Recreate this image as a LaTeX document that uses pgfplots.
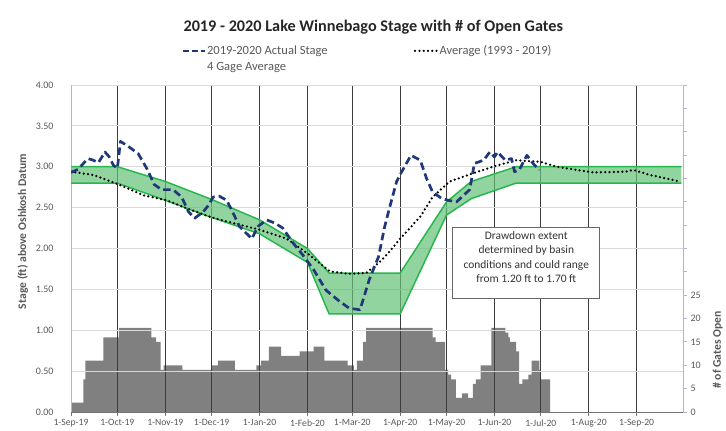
\documentclass[border=0pt]{standalone}
\usepackage{fontspec}
\setmainfont{Carlito}
\usepackage{pgfplots}
\usepackage{pgfplotstable}
\pgfplotsset{compat=1.18}
\definecolor{navy}{RGB}{32,56,122}
\definecolor{bandfill}{RGB}{99,194,119}
\definecolor{bandline}{RGB}{40,182,78}
\definecolor{lav}{RGB}{185,175,218}
\definecolor{gatesgray}{RGB}{128,128,128}
\definecolor{hgrid}{RGB}{217,217,217}
\definecolor{vgrid}{RGB}{60,60,60}
\definecolor{txt}{RGB}{89,89,89}

\pgfplotstableread{
day gates
0 2
8 7
9.3 11
21 16
31 18
52 16
55 15
58 9
60 10
72 9
91 10
95 11
106 9
120 10
123 11
128 14
136 12
148 13
157 14
164 11
179 10
183 9
185 11
189 15
191 18
234 16
236 15
242 9
244 8
246 7
249 3
253 4
257 3
260 6
262 7
265 10
272 18
281 17
283 16
284 15
288 13
290 6
292 7
296 8
298 11
303 9
304 7
310 7
}\gates

\pgfplotstableread{
day up lo
0 3.00 2.80
30 3.00 2.80
61 2.82 2.59
91 2.60 2.38
122 2.35 2.18
153 2.00 1.83
167 1.70 1.20
213 1.70 1.20
243 2.57 2.41
259 2.82 2.61
288 3.00 2.80
395 3.00 2.80
}\band

% band outline: upper bound forward, then lower bound backward
\pgfplotstableread{
day v
0 3.00
30 3.00
61 2.82
91 2.60
122 2.35
153 2.00
167 1.70
213 1.70
243 2.57
259 2.82
288 3.00
395 3.00
395 2.80
288 2.80
259 2.61
243 2.41
213 1.20
167 1.20
153 1.83
122 2.18
91 2.38
61 2.59
30 2.80
0 2.80
}\bandpoly

\pgfplotstableread{
day stage
0 2.93
4.7 2.97
8 3.04
11 3.10
14.4 3.08
17.7 3.05
22 3.18
24.8 3.12
27.4 3.02
30 2.98
32 3.31
37 3.25
43.5 3.16
49 2.98
54 2.78
58.7 2.72
66 2.72
71.6 2.63
76 2.45
80 2.37
85.6 2.45
89 2.53
92 2.63
96 2.64
100.7 2.59
104 2.47
109 2.27
117 2.12
121 2.27
126.6 2.35
132 2.31
137 2.25
144 2.06
150 1.92
157 1.74
165 1.49
174 1.35
180 1.27
187 1.25
193 1.62
199 1.90
203 2.27
206 2.49
210.7 2.82
214 2.94
220 3.14
226 3.08
230 2.86
234 2.69
240 2.61
244 2.59
249.5 2.57
254 2.65
258 2.72
261 3.04
267 3.08
271 3.18
274 3.12
276 3.18
281 3.08
285 3.10
287 2.94
290 2.96
295 3.14
299 3.04
303 2.96
}\actual

\pgfplotstableread{
day stage
0 2.94
14.4 2.90
23 2.84
30 2.79
47 2.65
62 2.59
75 2.49
91 2.38
105 2.31
122 2.23
139.5 2.12
153 1.94
167.5 1.72
180 1.69
191 1.70
200 1.84
206 1.96
213 2.12
226 2.39
234 2.63
245 2.82
260 2.92
273 3.00
288 3.08
304 3.06
314 3.00
338 2.93
359 2.94
364 2.96
374.5 2.90
394 2.82
}\avg

\begin{document}
\begin{tikzpicture}
\path[use as bounding box] (0bp,0bp) rectangle (726bp,431bp);

% gates axis (right)
\begin{axis}[
  at={(71bp,19bp)}, anchor=south west,
  scale only axis, width=612bp, height=327bp,
  xmin=0, xmax=396, ymin=0, ymax=70,
  axis x line=none, axis y line*=right,
  y axis line style={draw=lav, line width=0.9bp, -},
  ytick={0,5,...,70},
  yticklabels={0,5,10,15,20,25,,,,,,,,,},
  ytick style={draw=lav, line width=0.9bp},
  major tick length=4bp, tick align=outside,
  yticklabel style={font=\fontsize{10}{12}\selectfont, text=txt},
  /pgf/number format/assume math mode=true,
]
\addplot[const plot, fill=gatesgray, draw=none] table[x=day, y=gates] {\gates} \closedcycle;
\end{axis}

% stage axis (left)
\begin{axis}[
  at={(71bp,19bp)}, anchor=south west,
  scale only axis, width=612bp, height=327bp,
  xmin=0, xmax=396, ymin=0, ymax=4,
  axis x line*=bottom, axis y line*=left,
  x axis line style={draw=black!55, line width=0.9bp, -},
  y axis line style={draw=lav, line width=0.9bp, -},
  xtick={0,30,61,91,122,153,182,213,243,274,304,335,366},
  xticklabels={1-Sep-19,1-Oct-19,1-Nov-19,1-Dec-19,1-Jan-20,1-Feb-20,1-Mar-20,1-Apr-20,1-May-20,1-Jun-20,1-Jul-20,1-Aug-20,1-Sep-20},
  ytick={0,0.5,...,4},
  yticklabel={\pgfmathprintnumber[fixed,fixed zerofill,precision=2]{\tick}},
  /pgf/number format/assume math mode=true,
  ymajorgrids, xmajorgrids,
  y grid style={hgrid, line width=0.9bp},
  x grid style={vgrid, line width=0.9bp},
  xtick style={draw=black!55, line width=0.9bp},
  ytick style={draw=none},
  major tick length=4bp, tick align=outside,
  xticklabel style={font=\fontsize{9.7}{11}\selectfont, text=txt},
  yticklabel style={font=\fontsize{10}{12}\selectfont, text=txt, xshift=-10bp},
  legend style={at={(0.1797,1.125)}, anchor=north west, draw=none, fill=none,
    inner sep=0pt, font=\fontsize{12.6}{15}\selectfont, text=txt,
    nodes={inner sep=1.2bp}, row sep=3.5bp,
    /tikz/every even column/.append style={column sep=85bp}},
  legend columns=2,
  legend cell align=left,
  legend image code/.code={\draw[#1] (0bp,0bp) -- (22bp,0bp);},
]
\addplot[fill=bandfill, fill opacity=0.7, draw=none, forget plot] table[x=day, y=v] {\bandpoly} -- cycle;
\addplot[bandline, line width=1.5bp, forget plot] table[x=day, y=up] {\band};
\addplot[bandline, line width=1.5bp, forget plot] table[x=day, y=lo] {\band};
\addplot[black, line width=2.5bp, dash pattern=on 0bp off 4.3bp, line cap=round, forget plot] table[x=day, y=stage] {\avg};
\addplot[navy, line width=2.7bp, dash pattern=on 7.5bp off 4bp, line join=round, forget plot] table[x=day, y=stage] {\actual};

\addlegendimage{navy, line width=2.7bp, dash pattern=on 6bp off 3bp}
\addlegendentry{2019-2020 Actual Stage}
\addlegendimage{black, line width=2.5bp, dash pattern=on 0bp off 4.3bp, line cap=round}
\addlegendentry{Average (1993 - 2019)}
\addlegendimage{opacity=0}
\addlegendentry{4 Gage Average}

\node[draw=black!60, fill=white, line width=0.7bp, minimum width=147bp, minimum height=71bp, inner sep=0pt]
  at (axis cs:294.6,1.825) {};
\node[align=center, text=black!80, font=\fontsize{11.5}{14.3}\selectfont, inner sep=0pt]
  at (axis cs:294.6,1.895) {Drawdown extent\\determined by basin\\conditions and could range\\from 1.20 ft to 1.70 ft};
\end{axis}

\node[anchor=base west, font=\fontsize{16.3}{19}\selectfont\bfseries, text=black!85] at (180bp,399bp)
  {2019 - 2020 Lake Winnebago Stage with \# of Open Gates};
\node[rotate=90, font=\fontsize{11.7}{14}\selectfont\bfseries, text=txt] at (22.7bp,199.5bp)
  {Stage (ft) above Oshkosh Datum};
\node[rotate=90, font=\fontsize{11.7}{14}\selectfont\bfseries, text=txt] at (717.7bp,81bp)
  {\# of Gates Open};
\end{tikzpicture}
\end{document}
